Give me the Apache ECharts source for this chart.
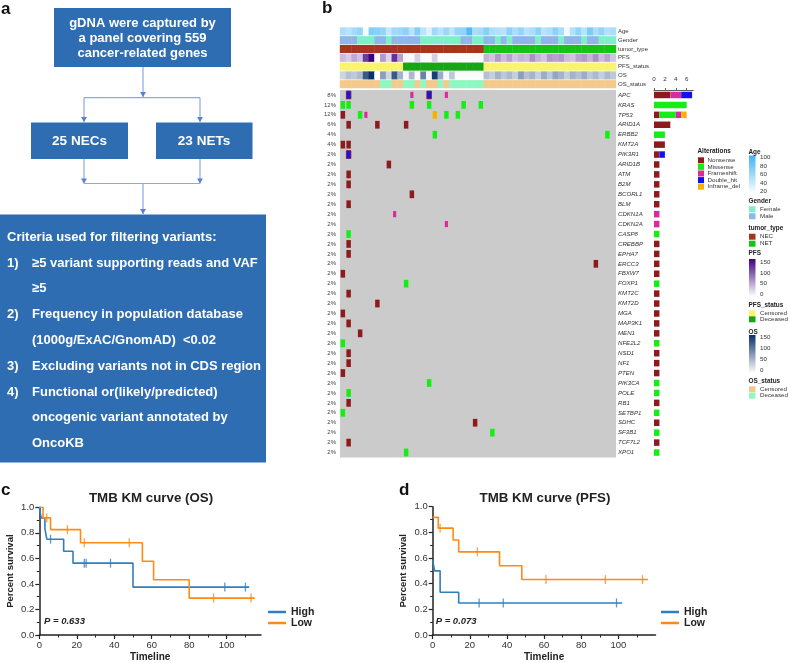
<!DOCTYPE html>
<html><head><meta charset="utf-8">
<script src="https://cdn.jsdelivr.net/npm/echarts@6.0.0/dist/echarts.min.js"></script>
<style>html,body{margin:0;padding:0;background:#fff}#c{width:788px;height:663px}</style>
</head><body><div id="c"></div>
<script>
const FONT = '"Liberation Sans", Arial, Helvetica, sans-serif';

// ---------- Panel b data ----------
const trackNames = ['Age','Gender','tumor_type','PFS','PFS_status','OS','OS_status'];
const age = [55,50,58,65,22,72,70,65,45,60,62,68,50,72,48,35,60,50,62,48,65,66,92,55,58,
             70,55,52,50,68,55,65,50,55,68,50,55,68,55,25,52,66,50,75,55,66,52,55];
const gender = ['M','M','M','F','F','F','M','M','F','M','M','M','M','M','F','F','F','F','F','F','F','M','M','F','F',
                'M','M','F','M','F','M','M','M','M','F','M','M','M','F','M','M','M','F','M','M','F','F','F'];
const tumorType = ['NEC','NEC','NEC','NEC','NEC','NEC','NEC','NEC','NEC','NEC','NEC','NEC','NEC','NEC','NEC','NEC','NEC','NEC','NEC','NEC','NEC','NEC','NEC','NEC','NEC',
                   'NET','NET','NET','NET','NET','NET','NET','NET','NET','NET','NET','NET','NET','NET','NET','NET','NET','NET','NET','NET','NET','NET','NET'];
const pfs = [40,30,50,35,115,150,3,60,25,120,55,5,4,30,3,2,30,2,3,2,2,2,2,2,2,
             45,35,60,40,55,35,45,40,65,45,35,60,55,60,40,35,55,60,45,65,40,55,35];
const pfsStatus = ['C','C','C','C','C','C','C','C','C','C','C','D','D','D','D','D','D','D','D','D','D','D','D','D','D',
                   'C','C','C','C','C','C','C','C','C','C','C','C','C','C','C','C','C','C','C','C','C','C','C'];
const os = [30,45,40,50,120,150,2,70,30,120,55,5,50,3,90,4,140,60,5,40,3,3,3,3,3,
            45,35,55,40,50,35,70,45,55,35,60,40,65,55,35,55,45,60,40,50,35,50,40];
const osStatus = ['C','C','C','C','C','C','C','D','D','C','C','D','D','C','D','C','C','D','C','D','D','D','D','D','D',
                  'C','C','C','C','C','C','C','C','C','C','C','C','C','C','C','C','C','C','C','C','C','C','C'];

const genes = ['APC','KRAS','TP53','ARID1A','ERBB2','KMT2A','PIK3R1','ARID1B','ATM','B2M','BCORL1','BLM','CDKN1A','CDKN2A',
  'CASP8','CREBBP','EPHA7','ERCC3','FBXW7','FOXP1','KMT2C','KMT2D','MGA','MAP3K1','MEN1','NFE2L2','NSD1','NF1','PTEN',
  'PIK3CA','POLE','RB1','SETBP1','SDHC','SF3B1','TCF7L2','XPO1'];
const genePct = [8,12,12,6,4,4,2,2,2,2,2,2,2,2,2,2,2,2,2,2,2,2,2,2,2,2,2,2,2,2,2,2,2,2,2,2,2];

const altTypes = ['Nonsense','Missense','Frameshift','Double_hit','Inframe_del'];
const mutGene = ['APC','APC','APC','APC','KRAS','KRAS','KRAS','KRAS','KRAS','KRAS','TP53','TP53','TP53','TP53','TP53','TP53',
  'ARID1A','ARID1A','ARID1A','ERBB2','ERBB2','KMT2A','KMT2A','PIK3R1','ARID1B','ATM','B2M','BCORL1','BLM','CDKN1A','CDKN2A',
  'CASP8','CREBBP','EPHA7','ERCC3','FBXW7','FOXP1','KMT2C','KMT2D','MGA','MAP3K1','MEN1','NFE2L2','NSD1','NF1','PTEN',
  'PIK3CA','POLE','RB1','SETBP1','SDHC','SF3B1','TCF7L2','XPO1'];
const mutSample = [1,12,15,18, 0,1,12,15,21,24, 0,3,4,16,18,20, 1,6,11, 16,46, 0,1, 1, 8,1,1,12,1,9,18,
  1,1,1,44,0,11,1,6,0,1,3,0,1,1,0, 15,1,1,0,23,26,1,11];
const mutType = ['Double_hit','Frameshift','Double_hit','Frameshift',
  'Missense','Missense','Missense','Missense','Missense','Missense',
  'Nonsense','Missense','Frameshift','Inframe_del','Missense','Missense',
  'Nonsense','Nonsense','Nonsense','Missense','Missense','Nonsense','Nonsense','Double_hit',
  'Nonsense','Nonsense','Nonsense','Nonsense','Nonsense','Frameshift','Frameshift',
  'Missense','Nonsense','Nonsense','Nonsense','Nonsense','Missense','Nonsense','Nonsense','Nonsense','Nonsense','Nonsense',
  'Missense','Nonsense','Nonsense','Nonsense','Missense','Missense','Nonsense','Missense','Nonsense','Missense','Nonsense','Missense'];

const barNonsense   = [3,0,1,3,0,2,1,1,1,1,1,1,0,0,0,1,1,1,1,0,1,1,1,1,1,0,1,1,1,0,0,1,0,1,0,1,0];
const barMissense   = [0,6,3,0,2,0,0,0,0,0,0,0,0,0,1,0,0,0,0,1,0,0,0,0,0,1,0,0,0,1,1,0,1,0,1,0,1];
const barFrameshift = [2,0,1,0,0,0,0,0,0,0,0,0,1,1,0,0,0,0,0,0,0,0,0,0,0,0,0,0,0,0,0,0,0,0,0,0,0];
const barDoubleHit  = [2,0,0,0,0,0,1,0,0,0,0,0,0,0,0,0,0,0,0,0,0,0,0,0,0,0,0,0,0,0,0,0,0,0,0,0,0];
const barInframe    = [0,0,1,0,0,0,0,0,0,0,0,0,0,0,0,0,0,0,0,0,0,0,0,0,0,0,0,0,0,0,0,0,0,0,0,0,0];
const barTicks = [0,2,4,6];

// ---------- KM data ----------
const osHighT = [0,1,3,4,13,18,50,112];
const osHighS = [1,0.917,0.833,0.75,0.656,0.5625,0.375,0.375];
const osHighCens = [6,24,25,38,99,110];
const osLowT = [0,2,6,22,55,61,80,115];
const osLowS = [1,0.917,0.825,0.722,0.578,0.433,0.289,0.289];
const osLowCens = [4,15,24,48,93,113];
const pfsHighT = [0,1,4,14,102];
const pfsHighS = [0.583,0.5,0.333,0.25,0.25];
const pfsHighCens = [25,38,99];
const pfsLowT = [0,3,11,14,36,48,116];
const pfsLowS = [0.917,0.833,0.741,0.648,0.54,0.432,0.432];
const pfsLowCens = [4,24,61,93,113];
const kmTicks = [0,20,40,60,80,100];
const kmMinor = [10,30,50,70,90,110];

// ---------- colours ----------
const ALT_COL = {Nonsense:'#8e1b1b', Missense:'#14ee14', Frameshift:'#dc2a9c', Double_hit:'#1212f0', Inframe_del:'#f2b400'};
const BLUE = '#2f7fbf', ORANGE = '#ff8a14';
function hex(c){return [parseInt(c.slice(1,3),16),parseInt(c.slice(3,5),16),parseInt(c.slice(5,7),16)];}
function lerp(c0,c1,t){t=Math.max(0,Math.min(1,t));const a=hex(c0),b=hex(c1);
  return 'rgb('+a.map((v,i)=>Math.round(v+(b[i]-v)*t)).join(',')+')';}
function trackColor(track, c){
  switch(track){
    case 0: return lerp('#ffffff','#3fb3f4',(age[c]-20)/80);
    case 1: return gender[c]==='F' ? '#80eec8' : '#8fb5e9';
    case 2: return tumorType[c]==='NEC' ? '#a8331f' : '#14c414';
    case 3: return lerp('#ffffff','#3f007d',pfs[c]/150);
    case 4: return pfsStatus[c]==='C' ? '#f8f46c' : '#15a515';
    case 5: return lerp('#ffffff','#08306b',os[c]/150);
    case 6: return osStatus[c]==='C' ? '#f3c98c' : '#8ef7c2';
  }
}
const cols = age.map((_,i)=>'S'+(i+1));

const annotData = [];
for (let t=0;t<trackNames.length;t++) for (let c=0;c<cols.length;c++)
  annotData.push({value:[c,t], itemStyle:{color:trackColor(t,c)}});
const mutData = mutGene.map((g,i)=>({value:[mutSample[i], genes.indexOf(g), altTypes.indexOf(mutType[i])],
  itemStyle:{color:ALT_COL[mutType[i]]}}));

function stepAt(T,S,t){let v=S[0];for(let i=0;i<T.length;i++){if(T[i]<=t)v=S[i];}return v;}
function kmLine(T,S){return T.map((t,i)=>[t,S[i]]);}
function kmCens(T,S,C){return C.map(t=>[t,stepAt(T,S,t)]);}

// ---------- graphic (flowchart, legends, labels) ----------
const G = [];
function txt(x,y,text,o){G.push({type:'text',x,y,silent:true,z:10,style:Object.assign({text,fill:'#222',fontFamily:FONT,fontSize:8,
  align:'left',textAlign:'left',verticalAlign:'middle',textVerticalAlign:'middle'},o||{})});}
function rect(x,y,w,h,fill,o){G.push({type:'rect',silent:true,shape:{x,y,width:w,height:h},style:Object.assign({fill},o||{})});}
function ln(x1,y1,x2,y2){G.push({type:'line',silent:true,shape:{x1,y1,x2,y2},style:{stroke:'#8aaae2',lineWidth:1.2}});}
function arr(x,y){G.push({type:'polygon',silent:true,shape:{points:[[x-3,y-5],[x+3,y-5],[x,y]]},style:{fill:'#5b80d2'}});}

const BOX = '#2f6db3';
const W = {fill:'#fff',fontWeight:'bold',fontSize:13};
// panel a
txt(1,9,'a',{fontWeight:'bold',fontSize:17,fill:'#111'});
rect(54,8,177,59,BOX);
txt(142.5,38.5,'gDNA were captured by\na panel covering 559\ncancer-related genes',Object.assign({},W,{align:'center',textAlign:'center',lineHeight:15}));
rect(31,122.5,97,36.5,BOX);
rect(156,122.5,96.5,36.5,BOX);
txt(79.5,141,'25 NECs',Object.assign({},W,{align:'center',textAlign:'center',fontSize:13.5}));
txt(204,141,'23 NETs',Object.assign({},W,{align:'center',textAlign:'center',fontSize:13.5}));
ln(143,67,143,97.7); arr(143,97);
ln(84,97.7,200,97.7);
ln(84,97.7,84,122); arr(84,122);
ln(200,97.7,200,122); arr(200,122);
ln(84,159,84,183.5); arr(84,183.5);
ln(200,159,200,183.5); arr(200,183.5);
ln(84,183.5,200,183.5);
ln(143,183.5,143,214); arr(143,214);
rect(0,214.5,266,248,BOX);
const critLines = [
  [null,'Criteria used for filtering variants:'],
  ['1)','\u22655 variant supporting reads and VAF'],
  [null,'\u22655'],
  ['2)','Frequency in population database'],
  [null,'(1000g/ExAC/GnomAD)  <0.02'],
  ['3)','Excluding variants not in CDS region'],
  ['4)','Functional or(likely/predicted)'],
  [null,'oncogenic variant annotated by'],
  [null,'OncoKB']];
critLines.forEach((l,i)=>{
  const y = 237.3 + i*25.8;
  if (i===0) txt(7,y,l[1],W);
  else { if(l[0]) txt(7,y,l[0],W); txt(32,y,l[1],W); }
});
// panel labels
txt(322,8,'b',{fontWeight:'bold',fontSize:17,fill:'#111'});
txt(1,490,'c',{fontWeight:'bold',fontSize:17,fill:'#111'});
txt(399,490,'d',{fontWeight:'bold',fontSize:17,fill:'#111'});
// KM titles / p values
txt(151,498.5,'TMB KM curve (OS)',{fontWeight:'bold',fontSize:13.3,align:'center',textAlign:'center'});
txt(545,498.5,'TMB KM curve (PFS)',{fontWeight:'bold',fontSize:13.3,align:'center',textAlign:'center'});
txt(44,621.7,'P = 0.633',{fontWeight:'bold',fontStyle:'italic',fontSize:9.5});
txt(435.7,621.7,'P = 0.073',{fontWeight:'bold',fontStyle:'italic',fontSize:9.5});

// oncoprint legends
const LT = {fontWeight:'bold',fontSize:6.4,fill:'#222'};
const LI = {fontSize:6.2,fill:'#333'};
txt(697.5,151.7,'Alterations',LT);
altTypes.forEach((a,i)=>{const y=160.3+i*6.6; rect(698,y-3,6,6,ALT_COL[a]); txt(707.5,y,a,LI);});
txt(748.5,152,'Age',LT);
rect(749,155.5,6.5,38,new echarts.graphic.LinearGradient(0,0,0,1,[{offset:0,color:'#3fb3f4'},{offset:1,color:'#ffffff'}]));
[100,80,60,40,20].forEach((v,i)=>txt(760,157.3+i*8.6,String(v),LI));
txt(748.5,201,'Gender',LT);
rect(749,206.3,6.5,6,'#80eec8'); txt(760,209.3,'Female',LI);
rect(749,213.3,6.5,6,'#8fb5e9'); txt(760,216.3,'Male',LI);
txt(748.5,228.7,'tumor_type',LT);
rect(749,233.7,6.5,6,'#a8331f'); txt(760,236.7,'NEC',LI);
rect(749,240.7,6.5,6,'#14c414'); txt(760,243.7,'NET',LI);
txt(748.5,253.5,'PFS',LT);
rect(749,259,6.5,37.5,new echarts.graphic.LinearGradient(0,0,0,1,[{offset:0,color:'#3f007d'},{offset:1,color:'#ffffff'}]));
[150,100,50,0].forEach((v,i)=>txt(760,262.3+i*10.67,String(v),LI));
txt(748.5,305,'PFS_status',LT);
rect(749,310.3,6.5,6,'#f8f46c'); txt(760,313.3,'Censored',LI);
rect(749,316.3,6.5,6,'#15a515'); txt(760,319.3,'Deceased',LI);
txt(748.5,332.3,'OS',LT);
rect(749,335,6.5,38,new echarts.graphic.LinearGradient(0,0,0,1,[{offset:0,color:'#08306b'},{offset:1,color:'#ffffff'}]));
[150,100,50,0].forEach((v,i)=>txt(760,337.7+i*10.87,String(v),LI));
txt(748.5,381.7,'OS_status',LT);
rect(749,386.3,6.5,6,'#f3c98c'); txt(760,389.3,'Censored',LI);
rect(749,392.7,6.5,6,'#8ef7c2'); txt(760,395.7,'Deceased',LI);

// ---------- axes ----------
const hiddenCat = (gi,data)=>({gridIndex:gi,type:'category',data,show:false});
function kmX(gi,max){return [
  {gridIndex:gi,type:'value',min:0,max,position:'bottom',splitLine:{show:false},
   axisLine:{show:true,onZero:false,lineStyle:{color:'#222',width:1.5}},
   axisTick:{show:true,customValues:kmTicks,length:4,lineStyle:{color:'#222',width:1.2}},
   axisLabel:{customValues:kmTicks,fontSize:9.5,color:'#333',margin:5,fontFamily:FONT},
   name:'Timeline',nameLocation:'middle',nameGap:17,nameTextStyle:{fontWeight:'bold',fontSize:10,color:'#222',fontFamily:FONT}},
  {gridIndex:gi,type:'value',min:0,max,position:'bottom',splitLine:{show:false},axisLine:{show:false},
   axisTick:{show:true,customValues:kmMinor,length:2.5,lineStyle:{color:'#222',width:1}},axisLabel:{show:false}}];}
function kmY(gi){return {gridIndex:gi,type:'value',min:0,max:1,interval:0.2,splitLine:{show:false},
  axisLine:{show:true,onZero:false,lineStyle:{color:'#222',width:1.5}},
  axisTick:{show:true,length:4,lineStyle:{color:'#222',width:1.2}},
  minorTick:{show:true,splitNumber:2,length:2.5,lineStyle:{color:'#222',width:1}},minorSplitLine:{show:false},
  axisLabel:{formatter:v=>v.toFixed(1),fontSize:9.5,color:'#333',margin:5,fontFamily:FONT},
  name:'Percent survival',nameLocation:'middle',nameGap:24,nameTextStyle:{fontWeight:'bold',fontSize:9.5,color:'#222',fontFamily:FONT}};}

function kmSeries(xi,yi,name,color,T,S,C){return [
  {type:'line',name,xAxisIndex:xi,yAxisIndex:yi,data:kmLine(T,S),step:'end',symbol:'none',
   lineStyle:{color,width:1.6},itemStyle:{color},z:3},
  {type:'scatter',name:name+'_cens',xAxisIndex:xi,yAxisIndex:yi,data:kmCens(T,S,C),symbol:'rect',symbolSize:[1.3,9],
   itemStyle:{color},z:4}];}

const barSeries = [barNonsense,barMissense,barFrameshift,barDoubleHit,barInframe].map((arr,i)=>({
  type:'bar',name:'bar_'+altTypes[i],xAxisIndex:2,yAxisIndex:3,stack:'alt',barWidth:6.5,data:arr,
  itemStyle:{color:ALT_COL[altTypes[i]]}}));

const option = {
  animation:false,
  backgroundColor:'#ffffff',
  textStyle:{fontFamily:FONT},
  grid:[
    {left:340,top:27,width:276,height:61.6},
    {left:340,top:90,width:276,height:367.5,show:true,backgroundColor:'#cbcbcb',borderWidth:0},
    {left:654,top:90,width:39.2,height:367.5},
    {left:39.3,top:507.3,width:221.7,height:128.7},
    {left:432.7,top:506.7,width:222.8,height:129.3}
  ],
  xAxis:[
    hiddenCat(0,cols),
    hiddenCat(1,cols),
    {gridIndex:2,type:'value',min:0,max:7.2,position:'top',splitLine:{show:false},
     axisLine:{show:true,lineStyle:{color:'#333',width:0.8}},
     axisTick:{show:true,customValues:barTicks,length:2,lineStyle:{color:'#333',width:0.8}},
     axisLabel:{customValues:barTicks,fontSize:6.2,color:'#333',margin:8,fontFamily:FONT}},
    ...kmX(3,118.3),
    ...kmX(4,120)
  ],
  yAxis:[
    {gridIndex:0,type:'category',data:trackNames,inverse:true,position:'right',axisLine:{show:false},axisTick:{show:false},
     axisLabel:{interval:0,fontSize:6,color:'#333',margin:2,fontFamily:FONT}},
    {gridIndex:1,type:'category',data:genes,inverse:true,position:'left',axisLine:{show:false},axisTick:{show:false},
     axisLabel:{interval:0,fontSize:6,color:'#444',margin:4,fontFamily:FONT,formatter:(v,i)=>genePct[i]+'%'}},
    {gridIndex:1,type:'category',data:genes,inverse:true,position:'right',axisLine:{show:false},axisTick:{show:false},
     axisLabel:{interval:0,fontSize:6.1,color:'#333',margin:2,fontStyle:'italic',fontFamily:FONT}},
    {gridIndex:2,type:'category',data:genes,inverse:true,show:false},
    kmY(3),
    kmY(4)
  ],
  legend:[
    {data:['High','Low'],left:268,top:606.5,orient:'vertical',icon:'rect',itemWidth:18,itemHeight:2.5,itemGap:0,padding:0,
     selectedMode:false,textStyle:{fontWeight:'bold',fontSize:10.5,color:'#222',fontFamily:FONT}},
    {data:['High','Low'],left:661,top:606.5,orient:'vertical',icon:'rect',itemWidth:18,itemHeight:2.5,itemGap:0,padding:0,
     selectedMode:false,textStyle:{fontWeight:'bold',fontSize:10.5,color:'#222',fontFamily:FONT}}
  ],
  series:[
    {type:'custom',name:'annot',xAxisIndex:0,yAxisIndex:0,data:annotData,
     renderItem:(p,api)=>{const c=api.coord([api.value(0),api.value(1)]);const s=api.size([1,1]);
       return {type:'rect',shape:{x:c[0]-s[0]/2-0.2,y:c[1]-s[1]/2+0.35,width:s[0]+0.4,height:s[1]-0.7},style:{fill:api.visual('color')}};}},
    {type:'custom',name:'mut',xAxisIndex:1,yAxisIndex:1,data:mutData,
     renderItem:(p,api)=>{const c=api.coord([api.value(0),api.value(1)]);const s=api.size([1,1]);const t=api.value(2);
       let w=s[0]*0.78,h=s[1]*0.78;
       if(t===2){w=s[0]*0.55;h=s[1]*0.62;}
       const st={fill:api.visual('color')};
       if(t===3){st.stroke='#7a1840';st.lineWidth=0.9;}
       return {type:'rect',shape:{x:c[0]-w/2,y:c[1]-h/2,width:w,height:h},style:st};}},
    ...barSeries,
    ...kmSeries(3,4,'High',BLUE,osHighT,osHighS,osHighCens),
    ...kmSeries(3,4,'Low',ORANGE,osLowT,osLowS,osLowCens),
    ...kmSeries(5,5,'High',BLUE,pfsHighT,pfsHighS,pfsHighCens),
    ...kmSeries(5,5,'Low',ORANGE,pfsLowT,pfsLowS,pfsLowCens)
  ],
  graphic:{elements:G}
};
const chart = echarts.init(document.getElementById('c'),null,{renderer:'canvas'});
chart.setOption(option);
</script></body></html>
